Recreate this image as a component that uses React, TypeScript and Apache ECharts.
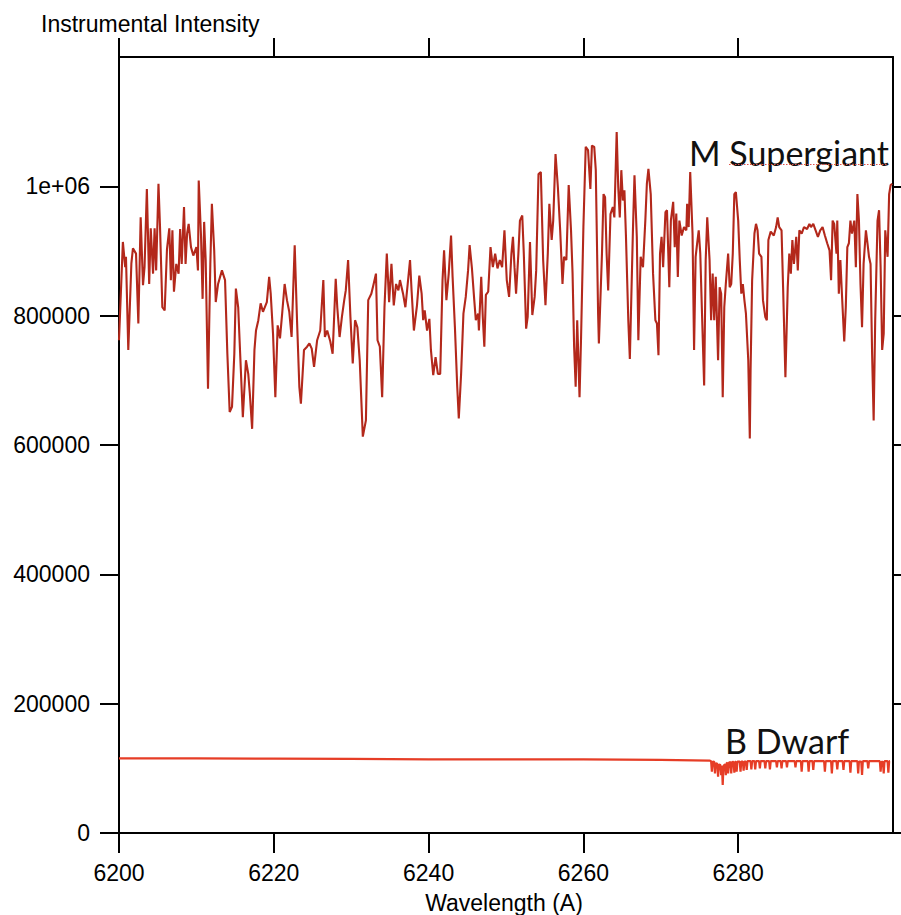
import React, { useEffect, useRef } from "react";
import * as echarts from "echarts";

const xTickValues = [6200, 6220, 6240, 6260, 6280];
const yTickValues = [0, 200000, 400000, 600000, 800000, 1000000];
const yTickLabels = ["0", "200000", "400000", "600000", "800000", "1e+06"];

const seriesNames = ["M Supergiant", "B Dwarf"];

const superWavelength = [
  6200.0, 6200.5, 6200.8, 6200.9, 6201.2, 6201.6, 6201.8, 6202.2, 6202.5, 6202.8,
  6203.1, 6203.3, 6203.6, 6203.9, 6204.1, 6204.4, 6204.6, 6204.8, 6205.1, 6205.3,
  6205.6, 6205.9, 6206.2, 6206.5, 6206.7, 6206.9, 6207.1, 6207.4, 6207.7, 6207.9,
  6208.1, 6208.4, 6208.6, 6208.8, 6209.0, 6209.3, 6209.6, 6210.0, 6210.2, 6210.3,
  6210.6, 6210.8, 6211.0, 6211.2, 6211.5, 6211.8, 6212.0, 6212.3, 6212.5, 6212.8,
  6213.3, 6213.7, 6214.0, 6214.3, 6214.6, 6214.9, 6215.1, 6215.4, 6216.0, 6216.4,
  6216.7, 6216.9, 6217.2, 6217.5, 6217.7, 6218.0, 6218.3, 6218.6, 6219.1, 6219.4,
  6219.6, 6219.9, 6220.2, 6220.5, 6220.8, 6221.1, 6221.4, 6221.7, 6222.0, 6222.3,
  6222.7, 6223.0, 6223.3, 6223.5, 6223.9, 6224.3, 6224.6, 6224.9, 6225.2, 6225.6,
  6226.0, 6226.4, 6226.6, 6226.9, 6227.3, 6227.6, 6228.0, 6228.2, 6228.5, 6228.8,
  6229.1, 6229.3, 6229.6, 6229.9, 6230.2, 6230.5, 6230.8, 6231.1, 6231.5, 6231.9,
  6232.2, 6232.6, 6232.9, 6233.2, 6233.4, 6233.7, 6234.0, 6234.3, 6234.6, 6234.9,
  6235.2, 6235.5, 6235.8, 6236.1, 6236.3, 6236.7, 6237.0, 6237.3, 6237.6, 6237.8,
  6238.1, 6238.5, 6238.8, 6239.1, 6239.3, 6239.5, 6239.8, 6240.1, 6240.3, 6240.6,
  6240.9, 6241.2, 6241.5, 6241.8, 6242.0, 6242.3, 6242.6, 6242.9, 6243.1, 6243.4,
  6243.7, 6243.9, 6244.2, 6244.5, 6244.8, 6245.1, 6245.3, 6245.6, 6245.9, 6246.1,
  6246.4, 6246.5, 6246.8, 6247.0, 6247.2, 6247.4, 6247.7, 6248.0, 6248.3, 6248.6,
  6248.9, 6249.2, 6249.5, 6249.8, 6250.1, 6250.4, 6250.7, 6250.9, 6251.1, 6251.3,
  6251.6, 6251.8, 6252.1, 6252.3, 6252.6, 6252.8, 6253.1, 6253.4, 6253.7, 6253.9,
  6254.2, 6254.5, 6254.8, 6255.1, 6255.4, 6255.6, 6255.9, 6256.1, 6256.4, 6256.7,
  6257.0, 6257.3, 6257.5, 6257.8, 6258.1, 6258.4, 6258.6, 6258.8, 6259.0, 6259.2,
  6259.5, 6259.7, 6260.0, 6260.3, 6260.6, 6260.9, 6261.1, 6261.4, 6261.6, 6261.9,
  6262.0, 6262.4, 6262.6, 6262.8, 6263.0, 6263.2, 6263.5, 6263.8, 6264.0, 6264.2,
  6264.3, 6264.5, 6264.7, 6264.9, 6265.1, 6265.3, 6265.5, 6265.8, 6266.0, 6266.4,
  6266.6, 6266.9, 6267.1, 6267.4, 6267.7, 6268.0, 6268.2, 6268.4, 6268.7, 6269.0,
  6269.3, 6269.5, 6269.7, 6269.9, 6270.1, 6270.3, 6270.6, 6270.8, 6271.1, 6271.3,
  6271.6, 6271.8, 6272.0, 6272.2, 6272.4, 6272.7, 6273.0, 6273.3, 6273.4, 6273.6,
  6273.8, 6274.1, 6274.3, 6274.5, 6274.7, 6274.9, 6275.1, 6275.3, 6275.6, 6275.8,
  6276.0, 6276.3, 6276.5, 6276.7, 6276.9, 6277.1, 6277.4, 6277.6, 6277.8, 6278.0,
  6278.2, 6278.4, 6278.7, 6278.9, 6279.1, 6279.3, 6279.5, 6279.7, 6280.0, 6280.2,
  6280.4, 6280.6, 6280.8, 6281.0, 6281.3, 6281.5, 6281.6, 6281.8, 6282.1, 6282.3,
  6282.5, 6282.7, 6283.0, 6283.2, 6283.5, 6283.7, 6283.9, 6284.2, 6284.6, 6284.9,
  6285.1, 6285.3, 6285.6, 6285.8, 6286.1, 6286.4, 6286.6, 6286.8, 6287.0, 6287.2,
  6287.5, 6287.7, 6287.9, 6288.2, 6288.5, 6288.9, 6289.2, 6289.4, 6289.7, 6290.0,
  6290.3, 6290.6, 6290.9, 6291.2, 6291.5, 6291.8, 6292.0, 6292.2, 6292.4, 6292.7,
  6292.8, 6293.0, 6293.2, 6293.4, 6293.7, 6293.9, 6294.1, 6294.3, 6294.5, 6294.7,
  6295.0, 6295.2, 6295.4, 6295.6, 6295.8, 6296.0, 6296.2, 6296.5, 6296.7, 6296.9,
  6297.1, 6297.3, 6297.5, 6297.7, 6298.0, 6298.2, 6298.4, 6298.6, 6298.8, 6299.0,
  6299.3, 6299.5, 6299.7, 6299.9,
];

const superIntensity = [
  762000, 914000, 875000, 891000, 747000, 881000, 904000, 896000, 788000, 952000,
  847000, 875000, 996000, 849000, 935000, 865000, 935000, 870000, 1004000, 937000,
  813000, 808000, 903000, 935000, 855000, 932000, 837000, 880000, 865000, 934000,
  880000, 968000, 880000, 927000, 942000, 906000, 893000, 906000, 870000, 1009000,
  922000, 826000, 945000, 886000, 687000, 880000, 973000, 901000, 821000, 849000,
  870000, 855000, 741000, 651000, 659000, 741000, 842000, 813000, 643000, 731000,
  710000, 680000, 625000, 747000, 777000, 793000, 819000, 806000, 821000, 860000,
  834000, 772000, 674000, 785000, 765000, 806000, 849000, 824000, 806000, 767000,
  909000, 793000, 690000, 664000, 747000, 752000, 757000, 749000, 721000, 762000,
  777000, 855000, 767000, 777000, 760000, 741000, 857000, 813000, 767000, 798000,
  824000, 839000, 886000, 798000, 726000, 793000, 782000, 731000, 613000, 638000,
  824000, 834000, 849000, 865000, 762000, 752000, 674000, 813000, 896000, 821000,
  880000, 816000, 849000, 839000, 855000, 834000, 813000, 849000, 886000, 839000,
  777000, 816000, 862000, 834000, 793000, 808000, 777000, 795000, 747000, 708000,
  736000, 710000, 710000, 855000, 901000, 824000, 865000, 924000, 860000, 782000,
  690000, 641000, 710000, 803000, 829000, 870000, 909000, 873000, 824000, 793000,
  803000, 777000, 860000, 798000, 752000, 832000, 837000, 906000, 875000, 896000,
  873000, 886000, 875000, 932000, 855000, 829000, 896000, 922000, 875000, 834000,
  896000, 947000, 955000, 896000, 780000, 798000, 914000, 801000, 829000, 870000,
  1019000, 1022000, 886000, 816000, 896000, 973000, 917000, 947000, 1050000, 999000,
  932000, 849000, 891000, 886000, 1002000, 932000, 865000, 752000, 690000, 793000,
  674000, 767000, 937000, 1061000, 1056000, 996000, 1063000, 1061000, 1025000, 803000,
  757000, 896000, 988000, 983000, 896000, 839000, 957000, 968000, 952000, 1040000,
  1084000, 999000, 952000, 1025000, 978000, 994000, 922000, 793000, 733000, 932000,
  1017000, 922000, 762000, 891000, 875000, 947000, 1004000, 1027000, 988000, 865000,
  793000, 788000, 739000, 896000, 922000, 875000, 960000, 963000, 844000, 947000,
  976000, 906000, 958000, 860000, 947000, 924000, 937000, 932000, 973000, 937000,
  1022000, 927000, 747000, 891000, 912000, 932000, 896000, 813000, 692000, 886000,
  952000, 886000, 793000, 865000, 793000, 860000, 731000, 844000, 834000, 674000,
  813000, 849000, 896000, 844000, 849000, 896000, 988000, 991000, 947000, 886000,
  834000, 849000, 824000, 803000, 731000, 610000, 716000, 855000, 927000, 942000,
  932000, 896000, 891000, 824000, 798000, 793000, 917000, 930000, 924000, 937000,
  952000, 937000, 932000, 844000, 705000, 844000, 896000, 865000, 917000, 880000,
  922000, 870000, 932000, 927000, 937000, 934000, 942000, 937000, 942000, 932000,
  922000, 932000, 937000, 924000, 912000, 901000, 855000, 947000, 942000, 896000,
  947000, 834000, 886000, 834000, 760000, 813000, 906000, 912000, 947000, 927000,
  947000, 875000, 988000, 947000, 849000, 782000, 880000, 932000, 912000, 891000,
  880000, 741000, 638000, 793000, 947000, 963000, 875000, 747000, 772000, 932000,
  891000, 988000, 1002000, 1004000,
];

const dwarfWavelength = [
  6200.0, 6210.0, 6220.0, 6230.0, 6240.0, 6250.0, 6260.0, 6270.0, 6276.3, 6276.5,
  6276.6, 6276.7, 6276.9, 6277.0, 6277.1, 6277.3, 6277.4, 6277.5, 6277.7, 6277.8,
  6277.9, 6278.0, 6278.1, 6278.3, 6278.4, 6278.5, 6278.6, 6278.7, 6278.8, 6279.0,
  6279.1, 6279.2, 6279.4, 6279.5, 6279.6, 6279.7, 6279.8, 6279.9, 6280.2, 6280.3,
  6280.4, 6280.6, 6280.7, 6280.8, 6281.0, 6281.1, 6281.2, 6281.6, 6281.7, 6281.8,
  6282.1, 6282.2, 6282.3, 6282.7, 6282.8, 6282.9, 6283.4, 6283.5, 6283.6, 6284.0,
  6284.1, 6284.2, 6284.9, 6285.0, 6285.1, 6285.5, 6285.6, 6285.7, 6286.2, 6286.3,
  6286.4, 6287.3, 6287.4, 6287.5, 6288.1, 6288.2, 6288.3, 6289.0, 6289.1, 6289.2,
  6289.6, 6289.7, 6289.8, 6291.1, 6291.2, 6291.3, 6292.0, 6292.1, 6292.2, 6292.7,
  6292.8, 6292.9, 6293.5, 6293.6, 6293.7, 6294.4, 6294.5, 6294.6, 6295.4, 6295.5,
  6295.6, 6295.9, 6296.0, 6296.1, 6296.7, 6296.8, 6296.9, 6298.3, 6298.4, 6298.5,
  6298.7, 6298.8, 6298.9, 6299.3, 6299.4, 6299.5, 6299.6,
];

const dwarfIntensity = [
  115500, 115300, 114900, 114500, 114000, 114000, 113800, 113200, 112000, 111000,
  94800, 110500, 110000, 92300, 108000, 107000, 87000, 106000, 105000, 89600,
  104000, 74200, 104000, 106000, 89600, 108000, 108500, 92300, 109000, 109500,
  92300, 109500, 110000, 93300, 110000, 110000, 94800, 110500, 110500, 94800,
  110500, 110500, 96400, 110500, 110500, 97400, 111000, 111000, 98500, 111000,
  111000, 98500, 111000, 111000, 100000, 111000, 111000, 100000, 111000, 111000,
  98500, 111000, 111000, 101600, 111000, 111000, 100000, 111000, 111000, 101600,
  111000, 111000, 101600, 111000, 111000, 94800, 111000, 111000, 94800, 111000,
  111000, 97400, 111000, 111000, 94800, 111000, 111000, 92300, 111000, 111000,
  98500, 111000, 111000, 97400, 111000, 111000, 93300, 111000, 111000, 92300,
  110500, 110500, 89600, 111000, 111000, 100000, 111000, 111000, 94800, 110000,
  110000, 92300, 111000, 111000, 93300, 111000, 111000,
];

const FONT = '"Liberation Sans", Arial, Helvetica, sans-serif';
const LABEL_FONT = 'Lato, "Open Sans", sans-serif';

export default function App() {
  const ref = useRef<HTMLDivElement>(null);

  useEffect(() => {
    if (!ref.current) return;
    const chart = echarts.init(ref.current, null, { renderer: "svg" });

    const axisLine = { show: true, onZero: false, lineStyle: { color: "#000", width: 2 } };
    const tickStyle = { color: "#000", width: 2 };

    chart.setOption({
      animation: false,
      backgroundColor: "#fff",
      grid: { left: 119, top: 57, width: 774, height: 776, containLabel: false },
      xAxis: [
        {
          type: "value",
          position: "bottom",
          min: 6200,
          max: 6300,
          axisLine,
          axisTick: { show: true, inside: false, length: 20, lineStyle: tickStyle, customValues: xTickValues },
          axisLabel: {
            show: true,
            margin: 28,
            color: "#000",
            fontSize: 23,
            fontFamily: FONT,
            customValues: xTickValues,
            formatter: (v: number) => String(v),
          },
          splitLine: { show: false },
        },
        {
          type: "value",
          position: "top",
          min: 6200,
          max: 6300,
          axisLine,
          axisTick: { show: true, inside: false, length: 19, lineStyle: tickStyle, customValues: xTickValues },
          axisLabel: { show: false },
          splitLine: { show: false },
        },
      ],
      yAxis: [
        {
          type: "value",
          position: "left",
          min: 0,
          max: 1200000,
          axisLine,
          axisTick: { show: true, inside: false, length: 19, lineStyle: tickStyle, customValues: yTickValues },
          axisLabel: {
            show: true,
            margin: 29,
            color: "#000",
            fontSize: 23,
            fontFamily: FONT,
            customValues: yTickValues,
            formatter: (v: number) => {
              const i = yTickValues.indexOf(v);
              return i >= 0 ? yTickLabels[i] : "";
            },
          },
          splitLine: { show: false },
        },
        {
          type: "value",
          position: "right",
          min: 0,
          max: 1200000,
          axisLine,
          axisTick: { show: true, inside: false, length: 12, lineStyle: tickStyle, customValues: yTickValues },
          axisLabel: { show: false },
          splitLine: { show: false },
        },
      ],
      series: [
        {
          name: seriesNames[0],
          type: "line",
          xAxisIndex: 0,
          yAxisIndex: 0,
          showSymbol: false,
          symbol: "none",
          silent: true,
          lineStyle: { color: "#b3281b", width: 2.1 },
          data: superWavelength.map((w, i) => [w, superIntensity[i]]),
        },
        {
          name: seriesNames[1],
          type: "line",
          xAxisIndex: 0,
          yAxisIndex: 0,
          showSymbol: false,
          symbol: "none",
          silent: true,
          lineStyle: { color: "#e63d26", width: 2.2 },
          data: dwarfWavelength.map((w, i) => [w, dwarfIntensity[i]]),
        },
      ],
      graphic: [
        {
          type: "text",
          x: 41,
          y: 24,
          style: { text: "Instrumental Intensity", fill: "#000", fontSize: 23, fontFamily: FONT, align: "left", verticalAlign: "middle" },
        },
        {
          type: "text",
          x: 504,
          y: 903,
          style: { text: "Wavelength (A)", fill: "#000", fontSize: 23, fontFamily: FONT, align: "center", verticalAlign: "middle" },
        },
        {
          type: "text",
          x: 689,
          y: 152,
          style: { text: seriesNames[0], fill: "#111", fontSize: 34, fontFamily: LABEL_FONT, align: "left", verticalAlign: "middle" },
        },
        {
          type: "text",
          x: 725,
          y: 740,
          style: { text: seriesNames[1], fill: "#111", fontSize: 34, fontFamily: LABEL_FONT, align: "left", verticalAlign: "middle" },
        },
        {
          type: "line",
          shape: { x1: 729, y1: 164.5, x2: 888, y2: 164.5 },
          style: { stroke: "#e0504a", lineWidth: 1.2, lineDash: [1.5, 1.5] },
        },
      ],
    });

    return () => chart.dispose();
  }, []);

  return (
    <div
      ref={ref}
      style={{ position: "fixed", left: 0, top: 0, width: 901, height: 915, background: "#fff" }}
    />
  );
}
